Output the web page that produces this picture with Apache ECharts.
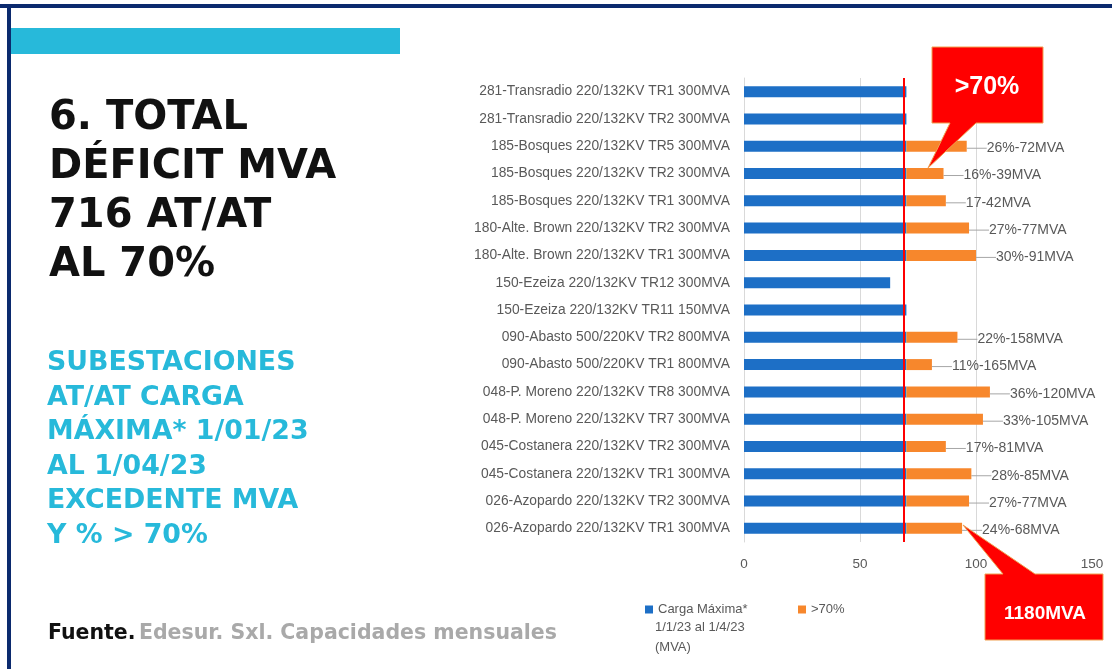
<!DOCTYPE html>
<html>
<head>
<meta charset="utf-8">
<script src="https://cdn.jsdelivr.net/npm/echarts@6.0.0/dist/echarts.min.js"></script>
<style>
  html, body { margin: 0; padding: 0; background: #ffffff; }
  #chart { width: 1112px; height: 669px; }
</style>
</head>
<body>
<div id="chart"></div>
<script>
// subestaciones, de arriba hacia abajo
const categories = [
  '281-Transradio 220/132KV TR1 300MVA',
  '281-Transradio 220/132KV TR2 300MVA',
  '185-Bosques 220/132KV TR5 300MVA',
  '185-Bosques 220/132KV TR2 300MVA',
  '185-Bosques 220/132KV TR1 300MVA',
  '180-Alte. Brown 220/132KV TR2 300MVA',
  '180-Alte. Brown 220/132KV TR1 300MVA',
  '150-Ezeiza 220/132KV TR12 300MVA',
  '150-Ezeiza 220/132KV TR11 150MVA',
  '090-Abasto 500/220KV TR2 800MVA',
  '090-Abasto 500/220KV TR1 800MVA',
  '048-P. Moreno 220/132KV TR8 300MVA',
  '048-P. Moreno 220/132KV TR7 300MVA',
  '045-Costanera 220/132KV TR2 300MVA',
  '045-Costanera 220/132KV TR1 300MVA',
  '026-Azopardo 220/132KV TR2 300MVA',
  '026-Azopardo 220/132KV TR1 300MVA'
]

// carga maxima (% hasta el 70)
const carga = [70, 70, 70, 70, 70, 70, 70, 63, 70, 70, 70, 70, 70, 70, 70, 70, 70]
// excedente por encima del 70%
const exceso = [null, null, 26, 16, 17, 27, 30, null, null, 22, 11, 36, 33, 17, 28, 27, 24]
// etiquetas del excedente
const excesoLabels = ['', '', '26%-72MVA', '16%-39MVA', '17-42MVA', '27%-77MVA', '30%-91MVA', '', '',
  '22%-158MVA', '11%-165MVA', '36%-120MVA', '33%-105MVA', '17%-81MVA', '28%-85MVA', '27%-77MVA', '24%-68MVA']

const xTicks = [0, 50, 100, 150]
const limite = 69

const cargaName = 'Carga Máxima*\n1/1/23 al 1/4/23\n(MVA)'
const excesoName = '>70%'

const textColor = '#595959'
const gridColor = '#d9d9d9'
const navy = '#0b2a6e'
const cyan = '#27b9da'

let chartDom = document.getElementById('chart')
let myChart = echarts.init(chartDom)

let option = {
  backgroundColor: '#ffffff',
  animation: false,
  textStyle: {fontFamily: 'Liberation Sans'},
  grid: {left: 744, width: 348, top: 78, bottom: 127},
  xAxis: {
    type: 'value',
    min: xTicks[0],
    max: xTicks[xTicks.length - 1],
    interval: xTicks[1] - xTicks[0],
    axisLine: {show: false},
    axisTick: {show: false},
    axisLabel: {color: textColor, fontSize: 13.5, margin: 15},
    splitLine: {show: true, showMaxLine: false, lineStyle: {color: gridColor, width: 1}}
  },
  yAxis: {
    type: 'category',
    inverse: true,
    data: categories,
    axisLine: {show: true, lineStyle: {color: gridColor}},
    axisTick: {show: false},
    axisLabel: {color: textColor, fontSize: 13.8, margin: 14}
  },
  legend: [
    {
      data: [cargaName],
      left: 640, top: 598,
      itemWidth: 8, itemHeight: 8, icon: 'rect',
      formatter: n => n.split('\n')[0],
      textStyle: {color: textColor, fontSize: 13, fontFamily: 'Liberation Sans'}
    },
    {
      data: [excesoName],
      left: 793, top: 598,
      itemWidth: 8, itemHeight: 8, icon: 'rect',
      textStyle: {color: textColor, fontSize: 13, fontFamily: 'Liberation Sans'}
    }
  ],
  series: [
    {
      name: cargaName,
      type: 'bar',
      stack: 'total',
      barWidth: 11,
      data: carga,
      itemStyle: {color: '#1d6fc6'},
      markLine: {
        silent: true,
        symbol: 'none',
        label: {show: false},
        lineStyle: {color: '#ff0000', width: 2, type: 'solid'},
        data: [{xAxis: limite}]
      }
    },
    {
      name: excesoName,
      type: 'bar',
      stack: 'total',
      barWidth: 11,
      data: exceso,
      itemStyle: {color: '#f7872c'},
      label: {
        show: true,
        position: 'right',
        distance: 2,
        color: textColor,
        fontSize: 14,
        formatter: p => excesoLabels[p.dataIndex]
      },
      labelLayout: {dx: 18, dy: 2},
      labelLine: {show: true, lineStyle: {color: '#a6a6a6', width: 1}}
    }
  ],
  graphic: [
    // marco
    {type: 'rect', shape: {x: 0, y: 4, width: 1112, height: 4}, style: {fill: navy}, z: 100},
    {type: 'rect', shape: {x: 7, y: 4, width: 4, height: 665}, style: {fill: navy}, z: 100},
    {type: 'rect', shape: {x: 11, y: 28, width: 389, height: 26}, style: {fill: cyan}, z: 100},
    // titulo
    {
      type: 'text', x: 49, y: 94, z: 100,
      style: {
        text: '6. TOTAL\nDÉFICIT MVA\n716 AT/AT\nAL 70%',
        font: 'bold 40px "DejaVu Sans"', lineHeight: 49, fill: '#111111'
      }
    },
    {
      type: 'text', x: 47, y: 346, z: 100,
      style: {
        text: 'SUBESTACIONES\nAT/AT CARGA\nMÁXIMA* 1/01/23\nAL 1/04/23\nEXCEDENTE MVA\nY % > 70%',
        font: 'bold 26.8px "DejaVu Sans"', lineHeight: 34.5, fill: cyan
      }
    },
    {
      type: 'text', x: 48, y: 623, z: 100,
      style: {
        text: '{a|Fuente.} {b|Edesur. Sxl. Capacidades mensuales}',
        rich: {
          a: {font: 'bold 20.5px "DejaVu Sans"', fill: '#111111'},
          b: {font: 'bold 20.5px "DejaVu Sans"', fill: '#a9a9a9'}
        }
      }
    },
    // resto de la leyenda
    {
      type: 'text', x: 655, y: 618, z: 100,
      style: {
        text: cargaName.split('\n').slice(1).join('\n'),
        font: '13px "Liberation Sans"', lineHeight: 19.5, fill: textColor
      }
    },
    // globos rojos
    {
      type: 'polygon', z: 100,
      shape: {points: [[932, 47], [1043, 47], [1043, 123], [976, 123], [928, 168], [950, 123], [932, 123]]},
      style: {fill: '#ff0000', stroke: '#f0a050', lineWidth: 1}
    },
    {
      type: 'text', x: 987, y: 87, z: 101,
      style: {text: '>70%', font: 'bold 25px "Liberation Sans"', fill: '#ffffff', align: 'center', verticalAlign: 'middle'}
    },
    {
      type: 'polygon', z: 100,
      shape: {points: [[985, 574], [1003, 574], [963, 525], [1035, 574], [1103, 574], [1103, 640], [985, 640]]},
      style: {fill: '#ff0000', stroke: '#f0a050', lineWidth: 1}
    },
    {
      type: 'text', x: 1045, y: 614, z: 101,
      style: {text: '1180MVA', font: 'bold 19px "Liberation Sans"', fill: '#ffffff', align: 'center', verticalAlign: 'middle'}
    }
  ]
}

window.onresize = myChart.resize

option && myChart.setOption(option)
</script>
</body>
</html>
